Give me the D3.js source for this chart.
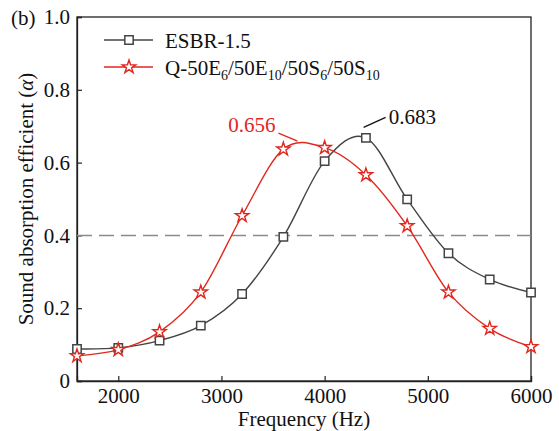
<!DOCTYPE html>
<html>
<head>
<meta charset="utf-8">
<script src="https://cdn.jsdelivr.net/npm/d3@7"></script>
<style>
  body { margin: 0; background: #fff; }
  svg text { font-family: "Liberation Serif", "Times New Roman", serif; }
</style>
</head>
<body>
<div id="chart"></div>
<script>
// frequencies (Hz)
const freqs = [1600, 2000, 2400, 2800, 3200, 3600, 4000, 4400, 4800, 5200, 5600, 6000];
// ESBR-1.5
const esbr = [0.088, 0.091, 0.111, 0.152, 0.239, 0.396, 0.604, 0.668, 0.499, 0.351, 0.279, 0.243];
// Q-50E6/50E10/50S6/50S10
const qSeries = [0.069, 0.086, 0.135, 0.244, 0.454, 0.637, 0.641, 0.566, 0.426, 0.244, 0.144, 0.094];

const xTicks = [2000, 3000, 4000, 5000, 6000];
const yTicks = [0, 0.2, 0.4, 0.6, 0.8, 1.0];
const threshold = 0.4;

// peak labels
const peakFreq = [4281, 3766];
const peakVal = [0.683, 0.656];

const margin = {top: 17, right: 28, bottom: 50, left: 77};
const W = 559, H = 431;
const width = W - margin.left - margin.right;
const height = H - margin.top - margin.bottom;

const svg = d3.select("#chart").append("svg")
    .attr("width", W)
    .attr("height", H);

const g = svg.append("g")
    .attr("transform", `translate(${margin.left},${margin.top})`);

const x = d3.scaleLinear().domain([1600, 6000]).range([0, width]);
const y = d3.scaleLinear().domain([0, 1]).range([height, 0]);

// frame
g.append("rect")
    .attr("width", width)
    .attr("height", height)
    .attr("fill", "none")
    .attr("stroke", "#222")
    .attr("stroke-width", 1.3);

const fmtY = d => d === 0 ? "0" : d3.format(".1f")(d);

const xAxis = g.append("g")
    .attr("transform", `translate(0,${height})`)
    .call(d3.axisBottom(x).tickValues(xTicks).tickSize(-5).tickPadding(7).tickFormat(d3.format("d")));

const yAxis = g.append("g")
    .call(d3.axisLeft(y).tickValues(yTicks).tickSize(-5).tickPadding(7).tickFormat(fmtY));

[xAxis, yAxis].forEach(a => {
    a.select(".domain").attr("stroke", "#222").attr("stroke-width", 1.3);
    a.selectAll(".tick line").attr("stroke", "#222").attr("stroke-width", 1.2);
    a.selectAll("text")
        .attr("font-family", "Liberation Serif, serif")
        .attr("font-size", 21)
        .attr("fill", "#111");
});

// dashed threshold
g.append("line")
    .attr("x1", 0).attr("x2", width)
    .attr("y1", y(threshold)).attr("y2", y(threshold))
    .attr("stroke", "#8a8a8a")
    .attr("stroke-width", 1.5)
    .attr("stroke-dasharray", "15,7");

const line = d3.line()
    .x(d => x(d[0]))
    .y(d => y(d[1]))
    .curve(d3.curveCardinal.tension(0));

const blackData = freqs.map((f, i) => [f, esbr[i]]);
const redData = freqs.map((f, i) => [f, qSeries[i]]);

const black = "#444";
const red = "#e0281e";

g.append("path").datum(blackData)
    .attr("fill", "none").attr("stroke", black).attr("stroke-width", 1.4)
    .attr("d", line);

g.append("path").datum(redData)
    .attr("fill", "none").attr("stroke", red).attr("stroke-width", 1.4)
    .attr("d", line);

const sq = d3.symbol().type(d3.symbolSquare).size(70);
const star = d3.symbol().type(d3.symbolStar).size(55);

g.selectAll(".sq").data(blackData).enter().append("path")
    .attr("class", "sq")
    .attr("d", sq)
    .attr("transform", d => `translate(${x(d[0])},${y(d[1])})`)
    .attr("fill", "#fff").attr("stroke", black).attr("stroke-width", 1.5);

g.selectAll(".st").data(redData).enter().append("path")
    .attr("class", "st")
    .attr("d", star)
    .attr("transform", d => `translate(${x(d[0])},${y(d[1])})`)
    .attr("fill", "#fff").attr("stroke", red).attr("stroke-width", 1.4);

// peak annotations
const ann = [
    {dx1: 10, dy1: -5, dx2: 32, dy2: -15, tx: 35, ty: -8, color: "#111", anchor: "start"},
    {dx1: -3, dy1: -1, dx2: -22, dy2: -9, tx: -25, ty: -10, color: red, anchor: "end"}
];
ann.forEach((a, i) => {
    const px = x(peakFreq[i]), py = y(peakVal[i]);
    g.append("line")
        .attr("x1", px + a.dx1).attr("y1", py + a.dy1)
        .attr("x2", px + a.dx2).attr("y2", py + a.dy2)
        .attr("stroke", a.color).attr("stroke-width", 1.3);
    g.append("text")
        .attr("x", px + a.tx).attr("y", py + a.ty)
        .attr("text-anchor", a.anchor)
        .attr("font-size", 21)
        .attr("fill", a.color)
        .text(d3.format(".3f")(peakVal[i]));
});

// legend
const leg = g.append("g").attr("transform", "translate(27,23)");
leg.append("line").attr("x1", 0).attr("x2", 49).attr("y1", 0).attr("y2", 0)
    .attr("stroke", black).attr("stroke-width", 1.4);
leg.append("path").attr("d", sq).attr("transform", "translate(25,0)")
    .attr("fill", "#fff").attr("stroke", black).attr("stroke-width", 1.5);
leg.append("text").attr("x", 61).attr("y", 8).attr("font-size", 21).attr("fill", "#111")
    .text("ESBR-1.5");

leg.append("line").attr("x1", 0).attr("x2", 49).attr("y1", 27).attr("y2", 27)
    .attr("stroke", red).attr("stroke-width", 1.4);
leg.append("path").attr("d", star).attr("transform", "translate(25,27)")
    .attr("fill", "#fff").attr("stroke", red).attr("stroke-width", 1.4);

const qText = leg.append("text").attr("x", 61).attr("y", 35).attr("font-size", 21).attr("fill", "#111");
const parts = [["Q-50E", ""], ["6", "sub"], ["/50E", ""], ["10", "sub"], ["/50S", ""], ["6", "sub"], ["/50S", ""], ["10", "sub"]];
parts.forEach(p => {
    const t = qText.append("tspan").text(p[0]);
    if (p[1] === "sub") t.attr("font-size", 14).attr("dy", 5);
    else t.attr("dy", qText.selectAll("tspan").size() > 1 ? -5 : 0);
});

// axis titles
svg.append("text")
    .attr("x", margin.left + width / 2)
    .attr("y", 426)
    .attr("text-anchor", "middle")
    .attr("font-size", 21)
    .attr("fill", "#111")
    .text("Frequency (Hz)");

const yl = svg.append("text")
    .attr("transform", `translate(33,${margin.top + height / 2}) rotate(-90)`)
    .attr("text-anchor", "middle")
    .attr("font-size", 21)
    .attr("fill", "#111");
yl.append("tspan").text("Sound absorption efficient (");
yl.append("tspan").attr("font-style", "italic").text("α");
yl.append("tspan").text(")");

svg.append("text")
    .attr("x", 11)
    .attr("y", 25)
    .attr("font-size", 21)
    .attr("fill", "#111")
    .text("(b)");
</script>
</body>
</html>
